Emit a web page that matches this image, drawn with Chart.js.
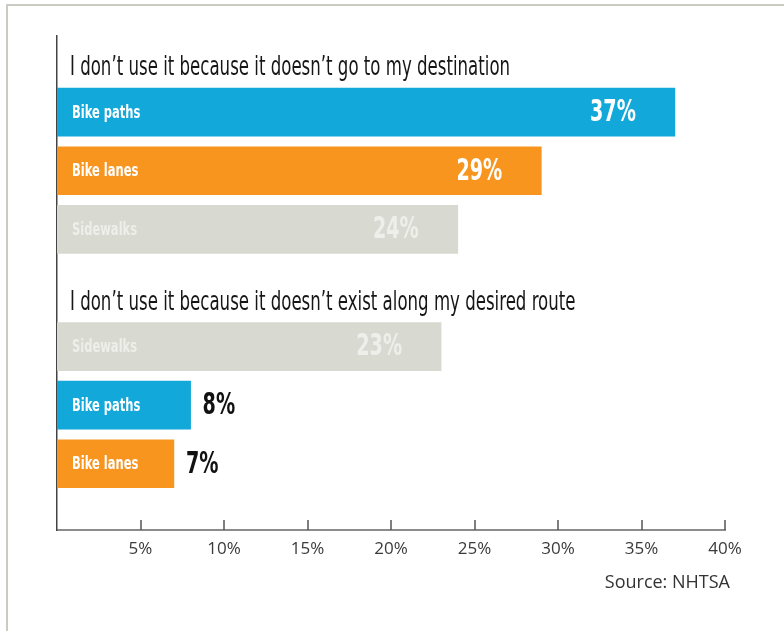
<!DOCTYPE html>
<html>
<head>
<meta charset="utf-8">
<script src="https://cdn.jsdelivr.net/npm/chart.js@4/dist/chart.umd.min.js"></script>
<style>
  html, body { margin: 0; padding: 0; background: #fff; }
  #wrap { position: relative; width: 784px; height: 631px; overflow: hidden; }
  #frame { position: absolute; left: 6px; top: 4px; right: 0; bottom: 0;
           border-top: 2px solid #cbcbc3; border-left: 2px solid #cbcbc3; pointer-events: none; }
  canvas { position: absolute; left: 0; top: 0; }
</style>
</head>
<body>
<div id="wrap">
  <canvas id="chart" width="784" height="631"></canvas>
  <div id="frame"></div>
</div>
<script>
// Survey answers, grouped by reason
const groupTitles = [
  'I don\u2019t use it because it doesn\u2019t go to my destination',
  'I don\u2019t use it because it doesn\u2019t exist along my desired route'
];
const destinationCategories = ['Bike paths', 'Bike lanes', 'Sidewalks'];
const destinationValues = [37, 29, 24];
const routeCategories = ['Sidewalks', 'Bike paths', 'Bike lanes'];
const routeValues = [23, 8, 7];
const xTickValues = [0, 5, 10, 15, 20, 25, 30, 35, 40];
const sourceNote = 'Source: NHTSA';

// Styling
const BAR_COLORS = { 'Bike paths': '#12a8da', 'Bike lanes': '#f7951f', 'Sidewalks': '#d8d9d0' };
const INNER_TEXT = { 'Bike paths': '#ffffff', 'Bike lanes': '#ffffff', 'Sidewalks': '#eeeeea' };
const CONDENSED = '"DejaVu Sans Condensed", "DejaVu Sans", sans-serif';
const SQUEEZE = 0.71; // horizontal compression for the narrow headline face
const PLAIN = '"Open Sans", "DejaVu Sans", sans-serif';

// One row per bar; an empty row separates the two groups
const groups = [
  { title: groupTitles[0], cats: destinationCategories, vals: destinationValues },
  { title: groupTitles[1], cats: routeCategories, vals: routeValues }
];
const rows = [];
let rowIndex = 0;
groups.forEach((g, gi) => {
  if (gi > 0) rowIndex++;
  g.cats.forEach((cat, i) => {
    rows.push({ y: rowIndex, x: g.vals[i], cat, title: i === 0 ? g.title : null });
    rowIndex++;
  });
});

function drawText(ctx, text, x, y, font, color, align, baseline, squeeze) {
  ctx.save();
  ctx.font = font;
  ctx.fillStyle = color;
  ctx.textAlign = align;
  ctx.textBaseline = baseline;
  ctx.translate(x, y);
  ctx.scale(squeeze || 1, 1);
  ctx.fillText(text, 0, 0);
  ctx.restore();
}

const barLabels = {
  id: 'barLabels',
  afterDatasetsDraw(chart) {
    const ctx = chart.ctx;
    const meta = chart.getDatasetMeta(0);
    meta.data.forEach((bar, i) => {
      const r = rows[i];
      const { x, y, base, height } = bar.getProps(['x', 'y', 'base', 'height'], true);
      drawText(ctx, r.cat, base + 15, y + 1, 'bold 18px ' + CONDENSED, INNER_TEXT[r.cat], 'left', 'middle', SQUEEZE);
      const txt = r.x + '%';
      if (x - base > 200) {
        drawText(ctx, txt, x - 39, y + 1, 'bold 30px ' + CONDENSED, INNER_TEXT[r.cat], 'right', 'middle', SQUEEZE);
      } else {
        drawText(ctx, txt, x + 12, y + 1, 'bold 30px ' + CONDENSED, '#111111', 'left', 'middle', SQUEEZE);
      }
      if (r.title) {
        drawText(ctx, r.title, base + 13, y - height / 2 - 13, '26px ' + CONDENSED, '#161616', 'left', 'alphabetic', SQUEEZE);
      }
    });
  },
  afterDraw(chart) {
    const ctx = chart.ctx;
    const xs = chart.scales.x;
    const bottom = chart.chartArea.bottom;
    ctx.save();
    ctx.strokeStyle = '#555555';
    ctx.lineWidth = 1.5;
    xTickValues.filter(v => v > 0).forEach(v => {
      const px = Math.round(xs.getPixelForValue(v));
      ctx.beginPath();
      ctx.moveTo(px, bottom);
      ctx.lineTo(px, bottom - 10);
      ctx.stroke();
    });
    ctx.restore();
    drawText(ctx, sourceNote, chart.chartArea.right + 5, bottom + 53, '18px ' + PLAIN, '#333333', 'right', 'middle', 1);
  }
};

new Chart(document.getElementById('chart'), {
  type: 'bar',
  data: {
    datasets: [{
      data: rows.map(r => ({ x: r.x, y: r.y })),
      backgroundColor: rows.map(r => BAR_COLORS[r.cat]),
      borderWidth: 0,
      barThickness: 48
    }]
  },
  options: {
    indexAxis: 'y',
    responsive: false,
    animation: false,
    devicePixelRatio: 1,
    layout: { padding: { left: 57, right: 59, top: 36, bottom: 0 } },
    plugins: { legend: { display: false }, tooltip: { enabled: false } },
    scales: {
      x: {
        type: 'linear',
        min: 0,
        max: 40,
        afterBuildTicks: s => { s.ticks = xTickValues.map(v => ({ value: v })); },
        grid: { display: false, drawTicks: false },
        border: { display: true, color: '#8c8c8c', width: 2 },
        ticks: {
          padding: 9,
          color: '#3a3a3a',
          font: { family: PLAIN, size: 17 },
          maxRotation: 0,
          autoSkip: false,
          callback: v => (v === 0 ? '' : v + '%')
        },
        afterFit: s => { s.height = 101; }
      },
      y: {
        type: 'linear',
        reverse: true,
        offset: false,
        min: -1.3,
        max: 7.13,
        grid: { display: false, drawTicks: false },
        ticks: { display: false },
        border: { display: true, color: '#444444', width: 1.5 },
        afterFit: s => { s.width = 0; }
      }
    }
  },
  plugins: [barLabels]
});
</script>
</body>
</html>
